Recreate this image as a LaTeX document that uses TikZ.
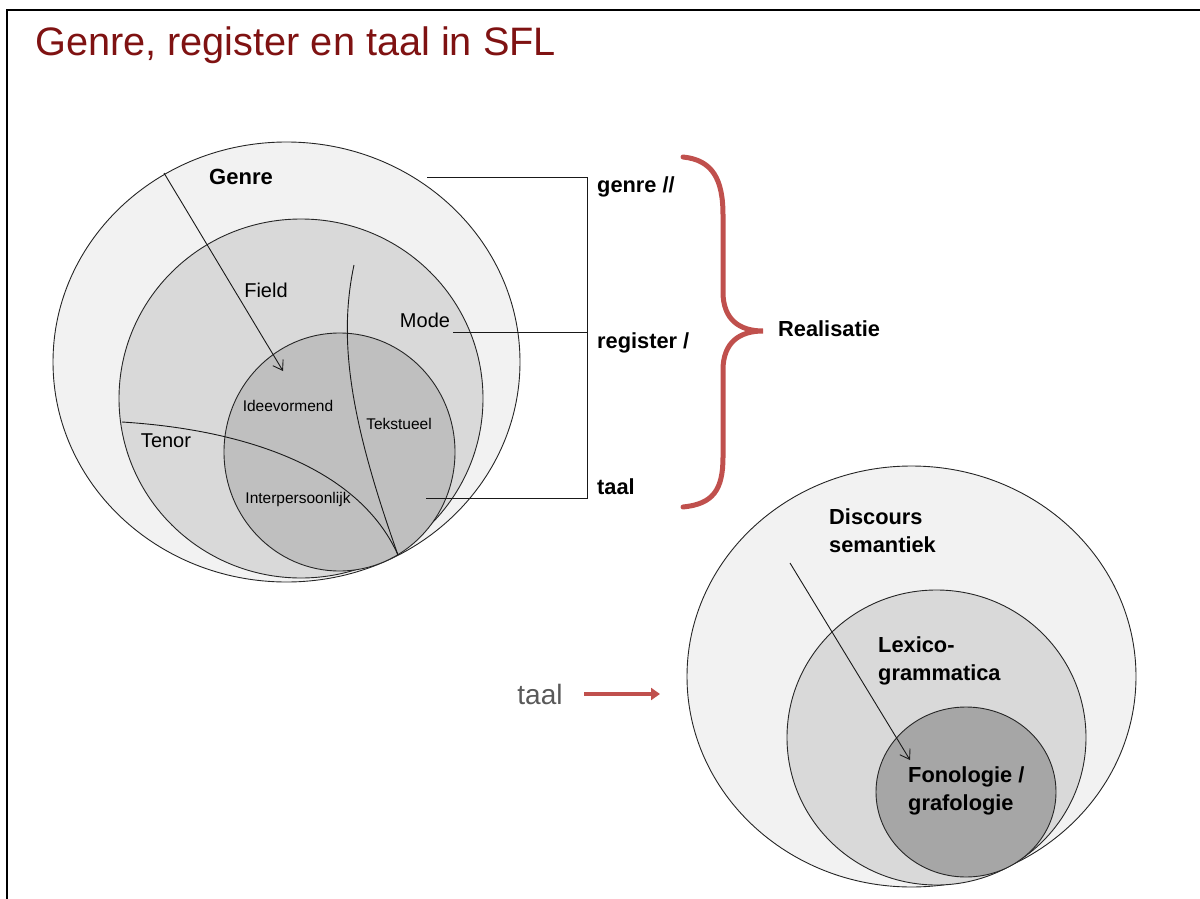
\documentclass[tikz,border=0pt]{standalone}
\usepackage{fontspec}
\setmainfont{Liberation Sans}
\usetikzlibrary{shapes.geometric,arrows.meta}
\definecolor{titlered}{HTML}{7F1212}
\definecolor{bracered}{HTML}{C0504D}
\definecolor{fillA}{HTML}{F2F2F2}
\definecolor{fillB}{HTML}{D9D9D9}
\definecolor{fillC}{HTML}{BFBFBF}
\definecolor{fillD}{HTML}{A6A6A6}
\definecolor{greytext}{HTML}{595959}
\begin{document}
\begin{tikzpicture}[x=1pt,y=-1pt,
  ring/.style={ellipse, draw=black!85, line width=0.9pt, inner sep=0pt, outer sep=0pt},
  wire/.style={draw=black!90, line width=0.9pt},
  ptr/.style={wire, -{Straight Barb[length=9pt,width=12pt]}},
  small/.style={inner sep=0pt, font=\fontsize{15.5}{18}\selectfont},
  mid/.style={inner sep=0pt, font=\fontsize{20}{24}\selectfont},
  big/.style={inner sep=0pt, font=\bfseries\fontsize{21.8}{28}\selectfont, align=left},
  redline/.style={draw=bracered, line width=5pt, line cap=round}
]
\useasboundingbox (0,0) rectangle (1200,899);
% frame
\draw[line width=2.5pt] (7,899) -- (7,10) -- (1200,10);
% title
\node[anchor=west, inner sep=0pt, text=titlered, font=\fontsize{39.7}{46}\selectfont] (title) at (35,45) {Genre, register en taal in SFL};

% left figure
\node[ring, fill=fillA, minimum width=467pt, minimum height=440pt] (genreC) at (286.5,362) {};
\node[ring, fill=fillB, minimum width=364pt, minimum height=359pt] (regC) at (301,398.5) {};
\node[ring, fill=fillC, minimum width=231pt, minimum height=238pt] (taalC) at (339.5,452) {};
\coordinate (tp) at (398,555);
\coordinate (tenS) at (122,422);
\coordinate (tekS) at (354,265);
\draw[wire] (tenS) .. controls (250,430) and (360,470) .. (tp);
\draw[wire] (tekS) .. controls (338,340) and (350,420) .. (tp);
\coordinate (a1s) at (164,173);
\coordinate (a1e) at (283,371);
\draw[ptr] (a1s) -- (a1e);

\node[inner sep=0pt, font=\bfseries\fontsize{22}{26}\selectfont] (genreL) at (241,177) {Genre};
\node[mid] (fieldL) at (266,290) {Field};
\node[mid] (modeL) at (425,320) {Mode};
\node[mid] (tenorL) at (166,441) {Tenor};
\node[small] (ideeL) at (288,406) {Ideevormend};
\node[small] (tekL) at (399,424) {Tekstueel};
\node[small] (interL) at (298,499) {Interpersoonlijk};

% bracket lines
\coordinate (gA) at (427,177);
\coordinate (gB) at (587,177);
\coordinate (rA) at (453,332);
\coordinate (rB) at (587,332);
\coordinate (tA) at (426,498);
\coordinate (tB) at (587,498);
\draw[wire] (gA) -- (gB) -- (tB) -- (tA);
\draw[wire] (rA) -- (rB);

\node[big, anchor=west] (genreR) at (597,187) {genre //};
\node[big, anchor=west] (registerR) at (597,343) {register /};
\node[big, anchor=west] (taalR) at (597,487) {taal};

% red brace
\coordinate (bT) at (683,157);
\coordinate (bTip) at (763,331);
\coordinate (bB) at (683,507);
\draw[redline] (bT) .. controls (713,160) and (723,180) .. (723,215) -- (723,292)
  .. controls (723,320) and (740,331) .. (bTip)
  .. controls (740,331) and (723,342) .. (723,370) -- (723,457)
  .. controls (723,490) and (713,504) .. (bB);
\node[big, anchor=west] (realL) at (778,329) {Realisatie};

% right figure
\node[ring, fill=fillA, minimum width=449pt, minimum height=421pt] (discC) at (911.5,676.5) {};
\node[ring, fill=fillB, minimum width=299pt, minimum height=295pt] (lexC) at (936.5,737.5) {};
\node[ring, fill=fillD, minimum width=180pt, minimum height=170pt] (fonC) at (966,792) {};
\coordinate (a2s) at (790,563);
\coordinate (a2e) at (910,760);
\draw[ptr] (a2s) -- (a2e);
\node[big, anchor=west] (discL) at (829,531) {Discours\\semantiek};
\node[big, anchor=west] (lexL) at (878,661) {Lexico-\\grammatica};
\node[big, anchor=west] (fonL) at (908,791) {Fonologie /\\grafologie};

% taal arrow
\node[inner sep=0pt, text=greytext, font=\fontsize{28}{32}\selectfont] (taalG) at (540,694) {taal};
\coordinate (raS) at (584,694);
\coordinate (raE) at (660,694);
\draw[draw=bracered, line width=4.5pt, -{Triangle[length=9pt,width=12pt]}] (raS) -- (raE);
\end{tikzpicture}
\end{document}
